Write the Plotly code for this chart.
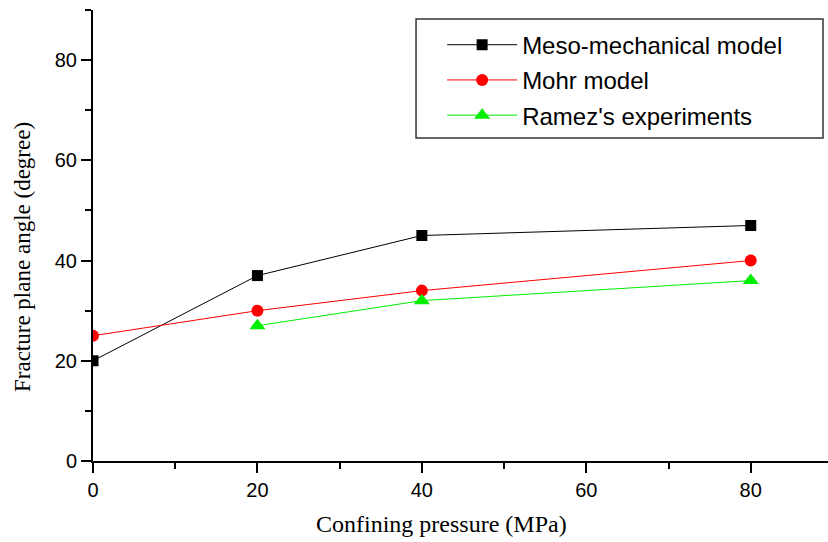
import plotly.graph_objects as go

pressure = [0, 20, 40, 80]
meso = [20, 37, 45, 47]
mohr = [25, 30, 34, 40]
ramez_x = [20, 40, 80]
ramez = [27, 32, 36]

fig = go.Figure()
fig.add_trace(go.Scatter(x=pressure, y=meso, mode="lines+markers", name="Meso-mechanical model",
                         legendgroup="a",
                         line=dict(color="black", width=1),
                         marker=dict(symbol="square", size=11, color="black")))
fig.add_trace(go.Scatter(x=pressure, y=mohr, mode="lines+markers", name="Mohr model",
                         legendgroup="b",
                         line=dict(color="red", width=1),
                         marker=dict(symbol="circle", size=12, color="red")))
fig.add_trace(go.Scatter(x=ramez_x, y=ramez, mode="lines+markers", name="Ramez's experiments",
                         legendgroup="c",
                         line=dict(color="#00ee00", width=1),
                         marker=dict(symbol="triangle-up", size=14, color="#00ee00")))

axis_common = dict(showline=True, linecolor="black", linewidth=2, ticks="outside",
                   ticklen=10, tickwidth=2, tickcolor="black", showgrid=False, zeroline=False,
                   tickfont=dict(family="Liberation Sans, Arial", size=20, color="black"))
fig.update_xaxes(range=[0, 89.4], tickvals=[0, 20, 40, 60, 80],
                 minor=dict(tickvals=[10, 30, 50, 70], ticklen=6, tickwidth=2, tickcolor="black", ticks="outside"),
                 **axis_common)
fig.update_yaxes(range=[0, 90], tickvals=[0, 20, 40, 60, 80],
                 minor=dict(tickvals=[10, 30, 50, 70, 90], ticklen=6, tickwidth=2, tickcolor="black", ticks="outside"),
                 **axis_common)

fig.add_annotation(text="Confining pressure (MPa)", xref="paper", yref="paper",
                   x=0.4735, y=-0.1397, xanchor="center", yanchor="middle",
                   showarrow=False,
                   font=dict(family="Liberation Serif, Times New Roman", size=24, color="black"))
fig.add_annotation(text="Fracture plane angle (degree)", xref="paper", yref="paper",
                   x=-0.0966, y=0.4523, xanchor="center", yanchor="middle",
                   textangle=-90, showarrow=False,
                   font=dict(family="Liberation Serif, Times New Roman", size=23, color="black"))

fig.add_shape(type="rect", xref="paper", yref="paper", x0=0.4395, x1=0.9932, y0=0.716, y1=0.980,
              line=dict(color="#333333", width=1.5), fillcolor="white", layer="above")

fig.update_layout(
    width=828, height=542,
    margin=dict(l=93, r=0, t=10, b=81),
    plot_bgcolor="white", paper_bgcolor="white",
    legend=dict(x=0.475, y=0.972, xanchor="left", yanchor="top",
                borderwidth=0, bgcolor="rgba(0,0,0,0)",
                font=dict(family="Liberation Sans, Arial", size=24, color="black"),
                itemwidth=70, tracegroupgap=1),
)
fig.write_html("out.html")
